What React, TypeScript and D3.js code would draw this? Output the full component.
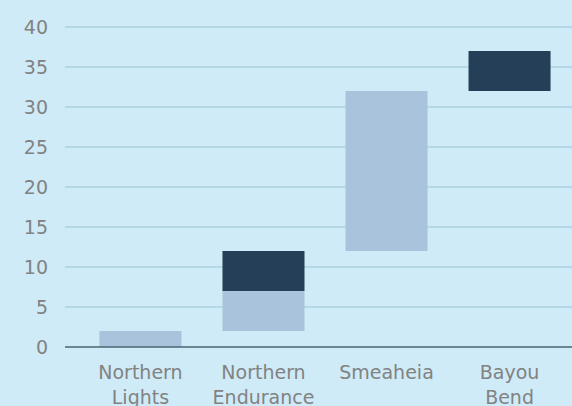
import { useEffect, useRef } from 'react';
import * as d3 from 'd3';

const categories = ['Northern Lights', 'Northern Endurance', 'Smeaheia', 'Bayou Bend'];
// floating segments: [start, end]
const lightSegments: [number, number][] = [[0, 2], [2, 7], [12, 32], [0, 0]];
const darkSegments: [number, number][] = [[0, 0], [7, 12], [0, 0], [32, 37]];
const yTicks = [0, 5, 10, 15, 20, 25, 30, 35, 40];

const W = 572;
const H = 406;

export default function App() {
  const svgRef = useRef<SVGSVGElement>(null);

  useEffect(() => {
    if (!svgRef.current) return;
    const svg = d3.select(svgRef.current);
    svg.selectAll('*').remove();

    const font = '"DejaVu Sans", sans-serif';
    const left = 65;

    svg.append('rect').attr('width', W).attr('height', H).attr('fill', '#ceebf7');

    const x = d3.scaleBand<string>()
      .domain(categories)
      .range([65, 585])
      .paddingInner(1 / 3)
      .paddingOuter(0.28);

    const y = d3.scaleLinear().domain([0, 40]).range([347, 27]);

    // Grid
    svg.append('g')
      .selectAll('line')
      .data(yTicks.filter(t => t > 0))
      .enter()
      .append('line')
      .attr('x1', left)
      .attr('x2', W)
      .attr('y1', d => y(d))
      .attr('y2', d => y(d))
      .attr('stroke', '#acd2e0')
      .attr('stroke-width', 1.5);

    // Y labels
    svg.append('g')
      .selectAll('text')
      .data(yTicks)
      .enter()
      .append('text')
      .attr('x', 48)
      .attr('y', d => y(d))
      .attr('dy', '0.36em')
      .attr('text-anchor', 'end')
      .attr('fill', '#828282')
      .attr('font-family', font)
      .attr('font-size', '19px')
      .text(d => d);

    const bars = svg.append('g');
    bars.selectAll('.light')
      .data(categories)
      .enter()
      .append('rect')
      .attr('x', d => x(d)!)
      .attr('width', x.bandwidth())
      .attr('y', (_, i) => y(lightSegments[i][1]))
      .attr('height', (_, i) => y(lightSegments[i][0]) - y(lightSegments[i][1]))
      .attr('fill', '#a9c3dc');

    bars.selectAll('.dark')
      .data(categories)
      .enter()
      .append('rect')
      .attr('x', d => x(d)!)
      .attr('width', x.bandwidth())
      .attr('y', (_, i) => y(darkSegments[i][1]))
      .attr('height', (_, i) => y(darkSegments[i][0]) - y(darkSegments[i][1]))
      .attr('fill', '#243f57');

    // x axis line
    svg.append('line')
      .attr('x1', left)
      .attr('x2', W)
      .attr('y1', y(0))
      .attr('y2', y(0))
      .attr('stroke', '#4d6272')
      .attr('stroke-width', 1.5);

    // X labels (wrapped)
    const labels = svg.append('g')
      .selectAll('text')
      .data(categories)
      .enter()
      .append('text')
      .attr('text-anchor', 'middle')
      .attr('fill', '#828282')
      .attr('font-family', font)
      .attr('font-size', '19px');

    labels.each(function (d) {
      const words = d.split(' ');
      const cx = x(d)! + x.bandwidth() / 2;
      d3.select(this)
        .selectAll('tspan')
        .data(words)
        .enter()
        .append('tspan')
        .attr('x', cx)
        .attr('y', (_, i) => 379 + i * 25)
        .text(w => w);
    });
  }, []);

  return (
    <>
      <style>{'body{margin:0}'}</style>
      <svg ref={svgRef} width={W} height={H} style={{ display: 'block' }} />
    </>
  );
}
